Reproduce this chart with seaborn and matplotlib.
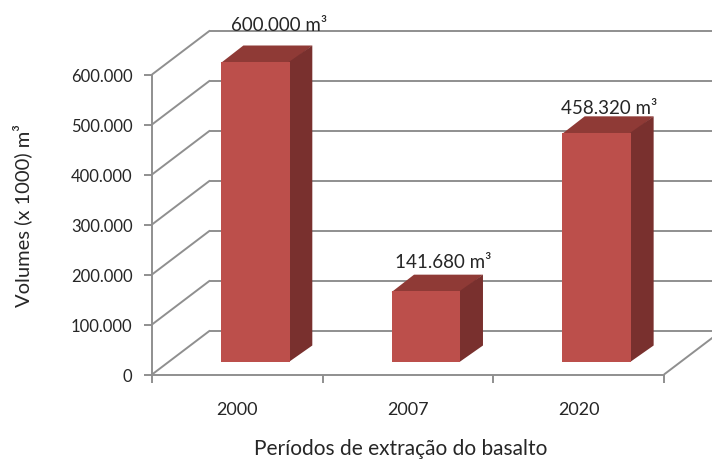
"""
Volumes de extração de basalto por período (colunas 3D estilo Excel)
"""

import matplotlib
matplotlib.use('Agg')
import matplotlib.pyplot as plt
import pandas as pd
import seaborn as sns
from matplotlib.patches import Polygon
from matplotlib.transforms import Affine2D

# Dados
periodos = ['2000', '2007', '2020']
volumes = [600000, 141680, 458320]
rotulos = ['600.000 m³', '141.680 m³', '458.320 m³']
y_ticks = [0, 100000, 200000, 300000, 400000, 500000, 600000]
y_labels = ['0', '100.000', '200.000', '300.000', '400.000', '500.000', '600.000']

# Estilo
GREY = '#8f8f8f'
TEXT = '#262626'
FRONT = '#bc4f4b'
TOP = '#8f3a36'
SIDE = '#79302e'

sns.set_theme(style='white')
plt.rcParams['font.family'] = ['Lato', 'DejaVu Sans']

W, H = 712, 460
fig = plt.figure(figsize=(W / 100, H / 100), dpi=100)
ax = fig.add_axes([152 / W, (H - 375.5) / H, 512 / W, 300 / H])

df = pd.DataFrame({'periodo': periodos, 'volume': volumes})
sns.barplot(data=df, x='periodo', y='volume', ax=ax, color=FRONT,
            saturation=1, width=0.404, zorder=3)

ax.set_xlim(-0.5, 2.5)
ax.set_ylim(0, 600000)
ax.patch.set_alpha(0)

# Deslocamentos em pixels: parede do fundo e posição das colunas no piso
wall = Affine2D().translate(58, 44)
SHIFT_X, SHIFT_Y = 18, 12.5
bar_shift = Affine2D().translate(SHIFT_X, SHIFT_Y)
depth = (22.5, 16.5)

# Grade das paredes
for v in y_ticks:
    ax.plot([-0.5, 2.5], [v, v], transform=ax.transData + wall, color=GREY,
            lw=1.4, clip_on=False, zorder=1)
    x0, y0 = ax.transData.transform((-0.5, v))
    ax.add_patch(Polygon([(x0, y0), (x0 + 58, y0 + 44)], closed=False, fill=False,
                         edgecolor=GREY, lw=1.4, transform=None, clip_on=False, zorder=1))
x0, y0 = ax.transData.transform((2.5, 0))
ax.add_patch(Polygon([(x0, y0), (x0 + 58, y0 + 44)], closed=False, fill=False,
                     edgecolor=GREY, lw=1.4, transform=None, clip_on=False, zorder=1))

# Faces das colunas
for bar in ax.patches[:]:
    if not isinstance(bar, matplotlib.patches.Rectangle):
        continue
    bar.set_transform(ax.transData + bar_shift)
    bar.set_clip_on(False)
    bar.set_linewidth(0)
    (xa, ya), (xb, yb) = ax.transData.transform(
        [(bar.get_x(), 0), (bar.get_x() + bar.get_width(), bar.get_height())])
    xa, xb, ya, yb = xa + SHIFT_X, xb + SHIFT_X, ya + SHIFT_Y, yb + SHIFT_Y
    dx, dy = depth
    # as faces sobrepõem 1 px à frente para não deixar fresta com a grade
    ax.add_patch(Polygon([(xa, yb - 1), (xb, yb - 1), (xb + dx, yb + dy), (xa + dx, yb + dy)],
                         facecolor=TOP, edgecolor='none', transform=None,
                         clip_on=False, zorder=2.5))
    ax.add_patch(Polygon([(xb - 1, ya), (xb + dx, ya + dy), (xb + dx, yb + dy), (xb - 1, yb)],
                         facecolor=SIDE, edgecolor='none', transform=None,
                         clip_on=False, zorder=2.5))

# Rótulos de dados (deslocamento em pixels a partir do topo da coluna)
label_offsets = [(42, 50), (35, 42), (30, 38)]
for i, (v, rot) in enumerate(zip(volumes, rotulos)):
    ox, oy = label_offsets[i]
    ax.annotate(rot, xy=(i, v), xytext=(ox, oy), textcoords='offset pixels',
                ha='center', va='center', fontsize=13.5, color=TEXT,
                annotation_clip=False, zorder=5)

# Eixos
sns.despine(ax=ax)
for side in ['left', 'bottom']:
    ax.spines[side].set_color(GREY)
    ax.spines[side].set_linewidth(1.4)
ax.set_yticks(y_ticks)
ax.set_yticklabels(y_labels)
ax.set_xticks([0, 1, 2])
ax.set_xticklabels(periodos)
ax.set_xticks([-0.5, 0.5, 1.5, 2.5], minor=True)
ax.tick_params(axis='y', length=6, width=1.4, color=GREY, labelsize=12,
               labelcolor=TEXT, pad=8, left=True)
ax.tick_params(axis='x', which='major', length=0, labelsize=13, labelcolor=TEXT, pad=19)
ax.tick_params(axis='x', which='minor', length=6, width=1.4, color=GREY, bottom=True)

ax.set_xlabel('')
ax.set_ylabel('')
fig.text(401 / W, 1 - 449 / H, 'Períodos de extração do basalto', ha='center', va='center',
         fontsize=15, color=TEXT)
fig.text(22 / W, 1 - 216 / H, 'Volumes (x 1000) m³', ha='center', va='center',
         rotation=90, fontsize=14.5, color=TEXT)

fig.savefig('out.png', dpi=100)
plt.close(fig)
